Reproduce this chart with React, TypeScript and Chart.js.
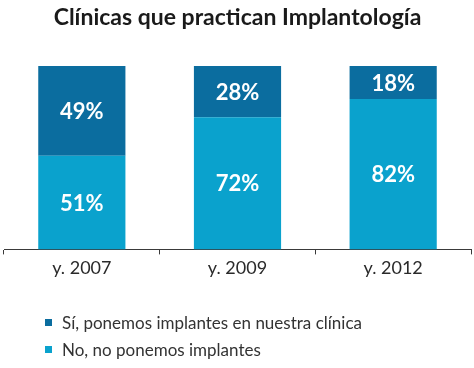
import React, { useEffect, useRef } from "react";
import { Chart, registerables } from "chart.js";

Chart.register(...registerables);

const categories = ["y. 2007", "y. 2009", "y. 2012"];
const siValues = [49, 28, 18];
const noValues = [51, 72, 82];
const seriesNames = ["Sí, ponemos implantes en nuestra clínica", "No, no ponemos implantes"];
const titleText = "Clínicas que practican Implantología";

const DARK = "#0b6d9f";
const LIGHT = "#0aa2cd";
const FONT = "Lato, 'Open Sans', sans-serif";

const segmentLabels = {
  id: "segmentLabels",
  afterDatasetsDraw(chart: any) {
    const ctx = chart.ctx;
    ctx.save();
    ctx.fillStyle = "#ffffff";
    ctx.font = `bold 22px ${FONT}`;
    ctx.textAlign = "center";
    ctx.textBaseline = "middle";
    chart.data.datasets.forEach((ds: any, di: number) => {
      const meta = chart.getDatasetMeta(di);
      meta.data.forEach((el: any, i: number) => {
        const { x, y, base } = el.getProps(["x", "y", "base"], true);
        ctx.fillText(`${ds.data[i]}%`, x, (y + base) / 2 + 1);
      });
    });
    ctx.restore();
  },
};

export default function App() {
  const ref = useRef<HTMLCanvasElement | null>(null);

  useEffect(() => {
    document.body.style.margin = "0";
    const chart = new Chart(ref.current as HTMLCanvasElement, {
      type: "bar",
      data: {
        labels: categories,
        datasets: [
          { label: seriesNames[1], data: noValues, backgroundColor: LIGHT, barPercentage: 0.56, categoryPercentage: 1 },
          { label: seriesNames[0], data: siValues, backgroundColor: DARK, barPercentage: 0.56, categoryPercentage: 1 },
        ],
      },
      options: {
        animation: false,
        responsive: false,
        maintainAspectRatio: false,
        layout: { padding: { left: 4, right: 3, top: 0, bottom: 86 } },
        plugins: {
          legend: { display: false },
          tooltip: { enabled: false },
          title: {
            display: true,
            text: titleText,
            color: "#1a1a1a",
            font: { family: FONT, size: 23, weight: "bold" },
            padding: { top: 4, bottom: 34.4 },
          },
        },
        scales: {
          x: {
            stacked: true,
            border: { display: true, color: "#3a3a3a", width: 1 },
            grid: {
              display: true,
              offset: true,
              drawOnChartArea: false,
              drawTicks: true,
              tickLength: 5,
              color: "#3a3a3a",
            },
            ticks: { color: "#2a2a2a", padding: 3, font: { family: FONT, size: 18 } },
          },
          y: { stacked: true, display: false, min: 0, max: 100 },
        },
      },
      plugins: [segmentLabels],
    });
    return () => chart.destroy();
  }, []);

  const legendItems = [
    { name: seriesNames[0], color: DARK },
    { name: seriesNames[1], color: LIGHT },
  ];

  return (
    <div style={{ position: "relative", width: 474, height: 368 }}>
      <canvas ref={ref} width={474} height={368} style={{ display: "block" }} />
      <div style={{ position: "absolute", left: 45, top: 310, fontFamily: FONT, fontSize: 17, color: "#333" }}>
        {legendItems.map((it) => (
          <div key={it.name} style={{ display: "flex", alignItems: "center", height: 24, marginBottom: 3 }}>
            <span style={{ display: "inline-block", width: 7, height: 7, background: it.color, marginRight: 10 }} />
            <span>{it.name}</span>
          </div>
        ))}
      </div>
    </div>
  );
}
